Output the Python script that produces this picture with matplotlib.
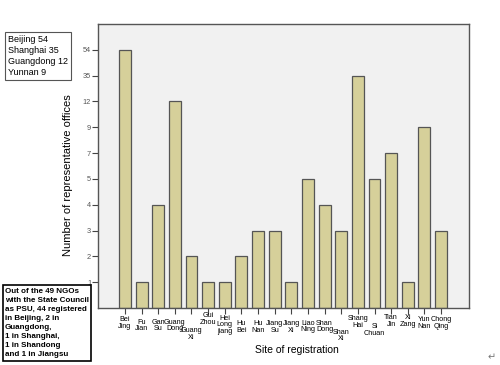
# bar chart: representative offices per site of registration (ordinal y axis)

import numpy as np
import matplotlib
matplotlib.use('Agg')
import matplotlib.pyplot as plt

plt.rcParams['font.family'] = ['Liberation Sans', 'DejaVu Sans']

sites = ['Bei\nJing', 'Fu\nJian', 'Gan\nSu', 'Guang\nDong', 'Guang\nXi',
         'Gui\nZhou', 'Hei\nLong\njiang', 'Hu\nBei', 'Hu\nNan', 'Jiang\nSu',
         'Jiang\nXi', 'Liao\nNing', 'Shan\nDong', 'Shan\nXi', 'Shang\nHai',
         'Si\nChuan', 'Tian\nJin', 'Xi\nZang', 'Yun\nNan', 'Chong\nQing']
offices = [54, 1, 4, 12, 2, 1, 1, 2, 3, 3, 1, 5, 4, 3, 35, 5, 7, 1, 9, 3]

# the y axis only shows the values that occur, evenly spaced
levels = sorted(set(offices))

# how far below the axis each label starts (px), SPSS staggers them
label_drop = [11.3, 13.7, 13.7, 13.7, 22, 7, 9.7, 15.3, 15.3, 15.3,
              15.3, 14.7, 14.7, 23.7, 10.3, 18, 9.3, 9.3, 11.3, 11.3]

knot_v = np.array([0] + levels + [levels[-1] + 19], dtype=float)
knot_p = np.arange(len(knot_v), dtype=float)


def forward(v):
    return np.interp(v, knot_v, knot_p)


def inverse(p):
    return np.interp(p, knot_p, knot_v)


fig = plt.figure(figsize=(5, 3.65), dpi=100)
ax = fig.add_axes([98 / 500, 1 - 308 / 365, (469 - 98) / 500, (308 - 24) / 365])
ax.set_facecolor('#f1f1f1')
ax.set_yscale('function', functions=(forward, inverse))

x = np.arange(len(sites))
ax.bar(x, offices, width=0.72, color='#d6d09a', edgecolor='#555555', linewidth=0.9, zorder=2)

ax.set_xlim(-1.62, len(sites) - 1 + 1.68)
ax.set_ylim(0, inverse(11.05))

ax.set_yticks(levels)
ax.set_yticklabels([str(v) for v in levels], fontsize=5.3, color='#555555')
ax.yaxis.set_minor_locator(matplotlib.ticker.NullLocator())
ax.tick_params(axis='y', length=4, width=0.8, color='#444444', pad=1)

ax.set_xticks(x)
ax.set_xticklabels([''] * len(sites))
ax.tick_params(axis='x', length=4, width=0.8, color='#444444')

for i, (name, drop) in enumerate(zip(sites, label_drop)):
    ax.annotate(name, xy=(i, 0), xycoords=('data', 'axes fraction'),
                xytext=(0, -(drop - 3)), textcoords='offset pixels',
                ha='center', va='top', fontsize=5.2, linespacing=0.95)

for s in ax.spines.values():
    s.set_color('#555555')
    s.set_linewidth(1.0)

fig.text(68 / 500, 1 - 175 / 365, 'Number of representative offices', rotation=90,
         ha='center', va='center', fontsize=8)
fig.text(297 / 500, 1 - 350 / 365, 'Site of registration', ha='center', va='center', fontsize=7.5)

fig.text(8 / 500, 1 - 56 / 365, 'Beijing 54\nShanghai 35\nGuangdong 12\nYunnan 9',
         ha='left', va='center', fontsize=6.5, linespacing=1.3,
         bbox=dict(boxstyle='square,pad=0.3', facecolor='white', edgecolor='#555555', linewidth=0.8))

fig.text(5 / 500, 1 - 323 / 365,
         'Out of the 49 NGOs\nwith the State Council\nas PSU, 44 registered\nin Beijing, 2 in\n'
         'Guangdong,\n1 in Shanghai,\n1 in Shandong\nand 1 in Jiangsu',
         ha='left', va='center', fontsize=5.8, fontweight='bold', linespacing=1.42,
         bbox=dict(boxstyle='square,pad=0.3', facecolor='white', edgecolor='black', linewidth=1.2))

fig.text(492 / 500, 1 - 357 / 365, '\u21b5', ha='center', va='center', fontsize=7,
         color='#777777', family='DejaVu Sans')

fig.savefig('out.png', dpi=100)
